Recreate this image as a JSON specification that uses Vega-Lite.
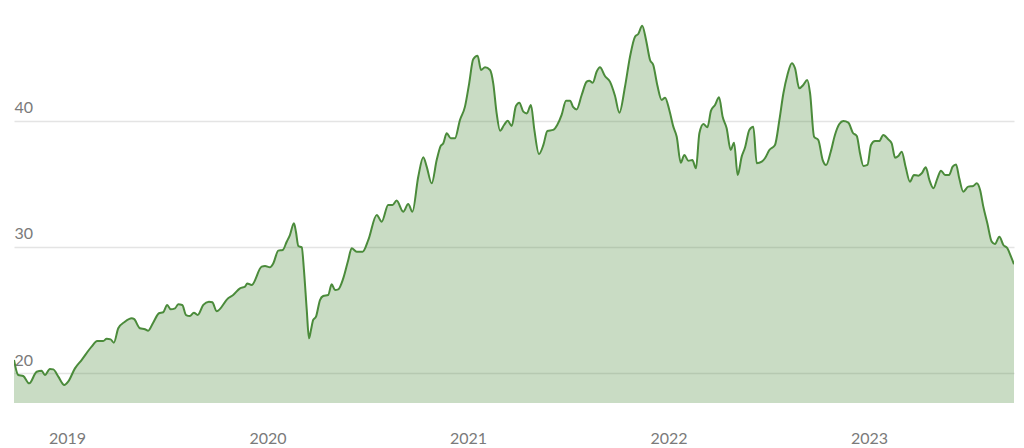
{
  "$schema": "https://vega.github.io/schema/vega-lite/v6.json",
  "autosize": "none",
  "width": 1000,
  "height": 403,
  "padding": {"left": 14, "top": 0, "right": 10, "bottom": 45},
  "background": "white",
  "config": {"view": {"stroke": null}},
  "data": {"values": [
    {"year": 2018.736, "value": 21.03}, {"year": 2018.757, "value": 19.84}, {"year": 2018.782, "value": 19.76}, {"year": 2018.812, "value": 19.18},
    {"year": 2018.849, "value": 20.1}, {"year": 2018.874, "value": 20.18}, {"year": 2018.890, "value": 19.84}, {"year": 2018.915, "value": 20.32},
    {"year": 2018.932, "value": 20.29}, {"year": 2018.957, "value": 19.71}, {"year": 2018.987, "value": 19.05}, {"year": 2019.006, "value": 19.31},
    {"year": 2019.040, "value": 20.37}, {"year": 2019.073, "value": 21.03}, {"year": 2019.123, "value": 22.09}, {"year": 2019.151, "value": 22.54},
    {"year": 2019.181, "value": 22.54}, {"year": 2019.198, "value": 22.72}, {"year": 2019.218, "value": 22.67}, {"year": 2019.234, "value": 22.41},
    {"year": 2019.256, "value": 23.55}, {"year": 2019.289, "value": 24.07}, {"year": 2019.323, "value": 24.34}, {"year": 2019.334, "value": 24.29},
    {"year": 2019.364, "value": 23.55}, {"year": 2019.389, "value": 23.47}, {"year": 2019.405, "value": 23.36}, {"year": 2019.430, "value": 23.99},
    {"year": 2019.459, "value": 24.74}, {"year": 2019.480, "value": 24.82}, {"year": 2019.500, "value": 25.4}, {"year": 2019.517, "value": 25.05},
    {"year": 2019.539, "value": 25.13}, {"year": 2019.555, "value": 25.45}, {"year": 2019.575, "value": 25.4}, {"year": 2019.594, "value": 24.6},
    {"year": 2019.613, "value": 24.52}, {"year": 2019.633, "value": 24.79}, {"year": 2019.652, "value": 24.6}, {"year": 2019.680, "value": 25.4},
    {"year": 2019.708, "value": 25.66}, {"year": 2019.725, "value": 25.61}, {"year": 2019.747, "value": 24.9}, {"year": 2019.804, "value": 25.93},
    {"year": 2019.829, "value": 26.19}, {"year": 2019.863, "value": 26.72}, {"year": 2019.888, "value": 26.85}, {"year": 2019.899, "value": 27.11},
    {"year": 2019.921, "value": 26.98}, {"year": 2019.971, "value": 28.44}, {"year": 2019.988, "value": 28.49}, {"year": 2020.012, "value": 28.39},
    {"year": 2020.029, "value": 28.7}, {"year": 2020.054, "value": 29.71}, {"year": 2020.076, "value": 29.76}, {"year": 2020.096, "value": 30.42},
    {"year": 2020.112, "value": 30.95}, {"year": 2020.132, "value": 31.88}, {"year": 2020.142, "value": 31.21}, {"year": 2020.154, "value": 30.08},
    {"year": 2020.171, "value": 29.97}, {"year": 2020.182, "value": 28.17}, {"year": 2020.196, "value": 25.0}, {"year": 2020.207, "value": 22.75},
    {"year": 2020.217, "value": 23.41}, {"year": 2020.228, "value": 24.21}, {"year": 2020.242, "value": 24.47}, {"year": 2020.262, "value": 25.79},
    {"year": 2020.278, "value": 26.11}, {"year": 2020.303, "value": 26.19}, {"year": 2020.320, "value": 27.04}, {"year": 2020.337, "value": 26.59},
    {"year": 2020.353, "value": 26.64}, {"year": 2020.378, "value": 27.51}, {"year": 2020.403, "value": 28.97}, {"year": 2020.420, "value": 29.9},
    {"year": 2020.445, "value": 29.63}, {"year": 2020.475, "value": 29.63}, {"year": 2020.503, "value": 30.56}, {"year": 2020.545, "value": 32.54},
    {"year": 2020.570, "value": 32.01}, {"year": 2020.602, "value": 33.33}, {"year": 2020.624, "value": 33.33}, {"year": 2020.644, "value": 33.68},
    {"year": 2020.677, "value": 32.8}, {"year": 2020.702, "value": 33.41}, {"year": 2020.723, "value": 32.8}, {"year": 2020.752, "value": 35.58},
    {"year": 2020.777, "value": 37.12}, {"year": 2020.794, "value": 36.38}, {"year": 2020.819, "value": 35.05}, {"year": 2020.844, "value": 36.9},
    {"year": 2020.864, "value": 38.02}, {"year": 2020.877, "value": 38.23}, {"year": 2020.894, "value": 39.02}, {"year": 2020.914, "value": 38.63},
    {"year": 2020.935, "value": 38.63}, {"year": 2020.960, "value": 40.08}, {"year": 2020.985, "value": 41.14}, {"year": 2021.006, "value": 42.99},
    {"year": 2021.026, "value": 44.89}, {"year": 2021.048, "value": 45.18}, {"year": 2021.065, "value": 44.05}, {"year": 2021.085, "value": 44.26},
    {"year": 2021.110, "value": 44.05}, {"year": 2021.126, "value": 42.99}, {"year": 2021.143, "value": 40.6}, {"year": 2021.160, "value": 39.23},
    {"year": 2021.180, "value": 39.68}, {"year": 2021.198, "value": 40.02}, {"year": 2021.218, "value": 39.6}, {"year": 2021.239, "value": 41.19},
    {"year": 2021.256, "value": 41.45}, {"year": 2021.276, "value": 40.74}, {"year": 2021.293, "value": 40.6}, {"year": 2021.314, "value": 41.27},
    {"year": 2021.331, "value": 39.29}, {"year": 2021.354, "value": 37.38}, {"year": 2021.376, "value": 38.1}, {"year": 2021.396, "value": 39.21},
    {"year": 2021.425, "value": 39.29}, {"year": 2021.445, "value": 39.68}, {"year": 2021.467, "value": 40.48}, {"year": 2021.489, "value": 41.61},
    {"year": 2021.509, "value": 41.61}, {"year": 2021.525, "value": 41.09}, {"year": 2021.542, "value": 40.92}, {"year": 2021.567, "value": 42.06},
    {"year": 2021.592, "value": 43.12}, {"year": 2021.605, "value": 43.2}, {"year": 2021.622, "value": 43.04}, {"year": 2021.642, "value": 43.93},
    {"year": 2021.658, "value": 44.26}, {"year": 2021.683, "value": 43.57}, {"year": 2021.708, "value": 43.12}, {"year": 2021.733, "value": 42.0},
    {"year": 2021.755, "value": 40.66}, {"year": 2021.783, "value": 42.72}, {"year": 2021.808, "value": 45.1}, {"year": 2021.833, "value": 46.69},
    {"year": 2021.849, "value": 46.9}, {"year": 2021.869, "value": 47.56}, {"year": 2021.888, "value": 46.43}, {"year": 2021.908, "value": 44.84},
    {"year": 2021.924, "value": 44.44}, {"year": 2021.944, "value": 42.86}, {"year": 2021.966, "value": 41.67}, {"year": 2021.983, "value": 41.85},
    {"year": 2022.004, "value": 40.87}, {"year": 2022.024, "value": 39.55}, {"year": 2022.041, "value": 38.75}, {"year": 2022.061, "value": 36.69},
    {"year": 2022.079, "value": 37.3}, {"year": 2022.099, "value": 36.85}, {"year": 2022.119, "value": 36.9}, {"year": 2022.137, "value": 36.24},
    {"year": 2022.154, "value": 39.02}, {"year": 2022.174, "value": 39.76}, {"year": 2022.194, "value": 39.5}, {"year": 2022.212, "value": 40.82},
    {"year": 2022.232, "value": 41.27}, {"year": 2022.252, "value": 41.88}, {"year": 2022.270, "value": 40.34}, {"year": 2022.290, "value": 39.42},
    {"year": 2022.310, "value": 37.7}, {"year": 2022.327, "value": 38.28}, {"year": 2022.345, "value": 35.71}, {"year": 2022.365, "value": 37.17},
    {"year": 2022.382, "value": 37.91}, {"year": 2022.403, "value": 39.29}, {"year": 2022.423, "value": 39.55}, {"year": 2022.440, "value": 36.64},
    {"year": 2022.465, "value": 36.77}, {"year": 2022.481, "value": 37.04}, {"year": 2022.503, "value": 37.7}, {"year": 2022.531, "value": 38.1},
    {"year": 2022.553, "value": 40.08}, {"year": 2022.573, "value": 42.2}, {"year": 2022.593, "value": 43.65}, {"year": 2022.615, "value": 44.58},
    {"year": 2022.631, "value": 44.18}, {"year": 2022.652, "value": 42.59}, {"year": 2022.672, "value": 42.86}, {"year": 2022.692, "value": 43.25},
    {"year": 2022.706, "value": 42.2}, {"year": 2022.726, "value": 38.75}, {"year": 2022.747, "value": 38.49}, {"year": 2022.769, "value": 36.9},
    {"year": 2022.786, "value": 36.51}, {"year": 2022.809, "value": 37.56}, {"year": 2022.830, "value": 38.89}, {"year": 2022.852, "value": 39.76},
    {"year": 2022.872, "value": 40.0}, {"year": 2022.897, "value": 39.87}, {"year": 2022.919, "value": 39.07}, {"year": 2022.939, "value": 38.81},
    {"year": 2022.955, "value": 37.44}, {"year": 2022.972, "value": 36.43}, {"year": 2022.992, "value": 36.51}, {"year": 2023.010, "value": 38.1},
    {"year": 2023.030, "value": 38.41}, {"year": 2023.051, "value": 38.41}, {"year": 2023.071, "value": 38.89}, {"year": 2023.096, "value": 38.54},
    {"year": 2023.113, "value": 38.23}, {"year": 2023.130, "value": 37.09}, {"year": 2023.146, "value": 37.22}, {"year": 2023.163, "value": 37.56},
    {"year": 2023.183, "value": 36.32}, {"year": 2023.204, "value": 35.18}, {"year": 2023.224, "value": 35.71}, {"year": 2023.246, "value": 35.66},
    {"year": 2023.263, "value": 35.85}, {"year": 2023.283, "value": 36.32}, {"year": 2023.301, "value": 35.32}, {"year": 2023.321, "value": 34.66},
    {"year": 2023.341, "value": 35.45}, {"year": 2023.359, "value": 36.06}, {"year": 2023.379, "value": 35.71}, {"year": 2023.399, "value": 35.71},
    {"year": 2023.417, "value": 36.37}, {"year": 2023.434, "value": 36.55}, {"year": 2023.450, "value": 35.45}, {"year": 2023.470, "value": 34.39},
    {"year": 2023.495, "value": 34.79}, {"year": 2023.520, "value": 34.84}, {"year": 2023.537, "value": 35.05}, {"year": 2023.554, "value": 34.52},
    {"year": 2023.570, "value": 33.2}, {"year": 2023.590, "value": 31.88}, {"year": 2023.612, "value": 30.42}, {"year": 2023.628, "value": 30.24},
    {"year": 2023.650, "value": 30.82}, {"year": 2023.670, "value": 30.16}, {"year": 2023.690, "value": 29.9}, {"year": 2023.708, "value": 29.23},
    {"year": 2023.723, "value": 28.63}
  ]},
  "encoding": {
    "x": {
      "field": "year", "type": "quantitative",
      "scale": {"domain": [2018.736, 2023.723], "nice": false, "zero": false},
      "axis": {
        "title": null, "values": [2019, 2020, 2021, 2022, 2023], "format": "d",
        "grid": false, "domain": false, "ticks": false, "tickSize": 0,
        "labelFont": "Lato", "labelFontSize": 16, "labelColor": "#7a7a7a",
        "labelBaseline": "alphabetic", "labelPadding": 40, "labelFlush": false
      }
    },
    "y": {
      "field": "value", "type": "quantitative",
      "scale": {"domain": [17.62, 49.6], "nice": false, "zero": false},
      "axis": {
        "title": null, "values": [20, 30, 40],
        "grid": true, "gridColor": "#e4e4e4", "gridWidth": 1.5,
        "domain": false, "ticks": false, "tickSize": 0,
        "labelFont": "Lato", "labelFontSize": 16, "labelColor": "#7a7a7a",
        "labelAlign": "left", "labelBaseline": "alphabetic", "labelPadding": 0, "labelOffset": -8
      }
    }
  },
  "layer": [
    {"mark": {"type": "area", "color": "#4b8b3b", "opacity": 0.3, "interpolate": "monotone", "clip": true}},
    {"mark": {"type": "line", "color": "#4b8b3b", "strokeWidth": 2, "interpolate": "monotone", "clip": true}}
  ]
}
